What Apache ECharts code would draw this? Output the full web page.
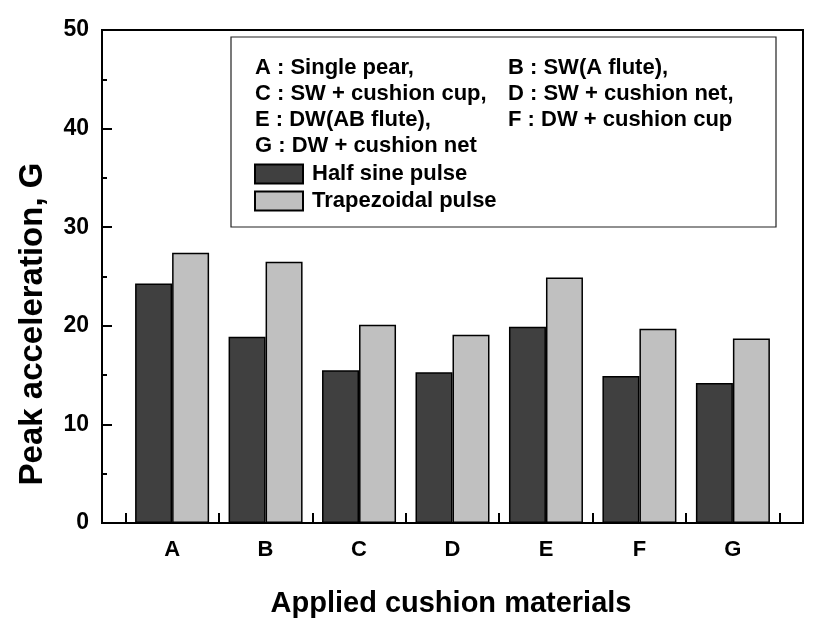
<!DOCTYPE html>
<html>
<head>
<meta charset="utf-8">
<script src="https://cdn.jsdelivr.net/npm/echarts@6/dist/echarts.min.js"></script>
<style>
  html, body { margin: 0; padding: 0; background: #fff; }
  #chart { width: 817px; height: 628px; }
</style>
</head>
<body>
<div id="chart"></div>
<script>
const categories = ['A', 'B', 'C', 'D', 'E', 'F', 'G']
const halfSine = [24.3, 18.9, 15.5, 15.3, 19.9, 14.9, 14.2]
const trapezoidal = [27.4, 26.5, 20.1, 19.1, 24.9, 19.7, 18.7]
const yTicks = [0, 10, 20, 30, 40, 50]
const notes = [
  ['A : Single pear,', 'B : SW(A flute),'],
  ['C : SW + cushion cup,', 'D : SW + cushion net,'],
  ['E : DW(AB flute),', 'F : DW + cushion cup'],
  ['G : DW + cushion net', '']
]

const font = '"Liberation Sans", Arial, Helvetica, sans-serif'
const chart = echarts.init(document.getElementById('chart'))

// category k sits at x = k+1 on a value axis, ticks fall on the half steps
const catPos = categories.map((c, i) => i + 1)
const boundaries = categories.map((c, i) => i + 0.5).concat([categories.length + 0.5])

const noteTexts = []
notes.forEach((row, r) => {
  row.forEach((txt, c) => {
    if (!txt) return
    noteTexts.push({
      type: 'text',
      x: c === 0 ? 255 : 508,
      y: 68 + r * 26,
      z: 51,
      style: { text: txt, font: 'bold 22px ' + font, fill: '#000', verticalAlign: 'middle' }
    })
  })
})

const option = {
  animation: false,
  backgroundColor: '#fff',
  grid: {
    left: 102, right: 14, top: 30, bottom: 105,
    show: true, borderColor: '#000', borderWidth: 2, backgroundColor: 'transparent'
  },
  legend: {
    left: 249, top: 158, orient: 'vertical', z: 100,
    itemWidth: 48, itemHeight: 19, itemGap: 5,
    icon: 'rect',
    textStyle: { fontFamily: font, fontWeight: 'bold', fontSize: 22, color: '#000', padding: [0, 0, 0, 4] },
    data: ['Half sine pulse', 'Trapezoidal pulse']
  },
  xAxis: {
    type: 'value',
    min: 0.25, max: 7.75,
    splitLine: { show: false },
    axisLine: { lineStyle: { color: '#000', width: 2 } },
    axisTick: { inside: true, length: 10, lineStyle: { color: '#000', width: 2 }, customValues: boundaries },
    axisLabel: {
      customValues: catPos,
      margin: 16,
      fontFamily: font, fontWeight: 'bold', fontSize: 22, color: '#000',
      formatter: v => categories[Math.round(v) - 1] || ''
    }
  },
  yAxis: {
    type: 'value',
    min: 0, max: 50, interval: 10,
    splitLine: { show: false },
    axisLine: { show: true, lineStyle: { color: '#000', width: 2 } },
    axisTick: { inside: true, length: 10, lineStyle: { color: '#000', width: 2 } },
    minorTick: { show: true, splitNumber: 2, length: 5, lineStyle: { color: '#000', width: 2 } },
    axisLabel: {
      margin: 13,
      fontFamily: font, fontWeight: 'bold', fontSize: 23, color: '#000',
      formatter: v => yTicks.includes(v) ? String(v) : ''
    }
  },
  graphic: [
    {
      type: 'rect',
      z: 50,
      shape: { x: 231, y: 37, width: 545, height: 190 },
      style: { fill: '#fff', stroke: '#222', lineWidth: 1.2 }
    },
    ...noteTexts,
    {
      type: 'text',
      x: 451, y: 604,
      style: {
        text: 'Applied cushion materials', font: 'bold 29px ' + font, fill: '#000',
        align: 'center', verticalAlign: 'middle'
      }
    },
    {
      type: 'text',
      x: 33, y: 324,
      rotation: Math.PI / 2,
      style: {
        text: 'Peak acceleration, G', font: 'bold 33px ' + font, fill: '#000',
        align: 'center', verticalAlign: 'middle'
      }
    }
  ],
  series: [
    {
      name: 'Half sine pulse',
      type: 'bar',
      barWidth: 37,
      barGap: '0%',
      itemStyle: { color: '#404040', borderColor: '#000', borderWidth: 1.5 },
      data: catPos.map((x, i) => [x, halfSine[i]])
    },
    {
      name: 'Trapezoidal pulse',
      type: 'bar',
      barWidth: 37,
      barGap: '0%',
      itemStyle: { color: '#c0c0c0', borderColor: '#000', borderWidth: 1.5 },
      data: catPos.map((x, i) => [x, trapezoidal[i]])
    }
  ]
}

chart.setOption(option)
</script>
</body>
</html>
